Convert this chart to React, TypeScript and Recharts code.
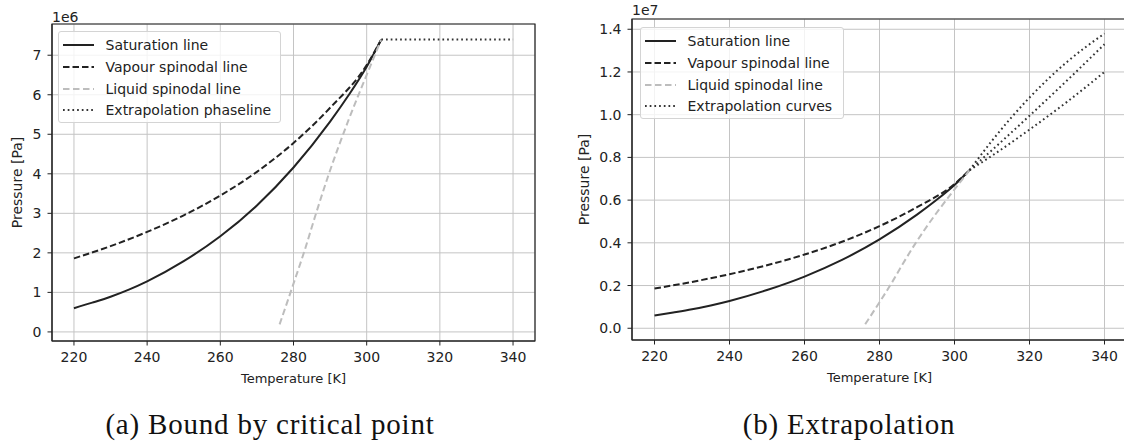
import { CartesianGrid, Label, Legend, Line, LineChart, ReferenceArea, XAxis, YAxis } from 'recharts'

const FONT = "'DejaVu Sans', sans-serif"
const INK = '#222222'
const GRID = '#c4c4c4'

const xTicks = [220, 240, 260, 280, 300, 320, 340]
const leftYTicks = [0, 1e6, 2e6, 3e6, 4e6, 5e6, 6e6, 7e6]
const rightYTicks = [0, 0.2e7, 0.4e7, 0.6e7, 0.8e7, 1.0e7, 1.2e7, 1.4e7]

// saturation line
const satT = [220, 225, 230, 235, 240, 250, 260, 270, 280, 290, 295, 300, 304]
const satP = [0.6e6, 0.74e6, 0.89e6, 1.07e6, 1.28e6, 1.79e6, 2.42e6, 3.2e6, 4.16e6, 5.32e6, 5.98e6, 6.71e6, 7.4e6]

// vapour spinodal line
const vapT = [220, 230, 240, 250, 260, 270, 280, 290, 300, 304]
const vapP = [1.86e6, 2.17e6, 2.53e6, 2.95e6, 3.45e6, 4.05e6, 4.78e6, 5.67e6, 6.75e6, 7.4e6]

// liquid spinodal line
const liqT = [276.2, 280, 283, 286, 289.5, 295, 300, 304]
const liqP = [0.19e6, 1.22e6, 2.05e6, 2.95e6, 3.95e6, 5.35e6, 6.5e6, 7.4e6]

// (a) extrapolation phaseline, flat at the critical pressure
const flatT = [304, 340]
const flatP = [7.4e6, 7.4e6]

// (b) extrapolation curves
const extT = [304, 310, 320, 330, 340]
const extTopP = [0.74e7, 0.878e7, 1.08e7, 1.247e7, 1.38e7]
const extMidP = [0.74e7, 0.834e7, 0.995e7, 1.16e7, 1.33e7]
const extLowP = [0.74e7, 0.808e7, 0.93e7, 1.06e7, 1.2e7]

const toPoints = (ts: number[], ps: number[]) => ts.map((t, i) => ({ t, p: ps[i] }))

const styles = {
  sat: { stroke: INK, strokeWidth: 2, strokeDasharray: undefined as string | undefined },
  vap: { stroke: INK, strokeWidth: 2, strokeDasharray: '6.5 3' },
  liq: { stroke: '#bdbdbd', strokeWidth: 2, strokeDasharray: '6.5 3.5' },
  ext: { stroke: '#333333', strokeWidth: 2, strokeDasharray: '1.7 3' },
}

type LegendItem = { name: string; style: { stroke: string; strokeWidth: number; strokeDasharray?: string } }

function LegendBox({ items, width }: { items: LegendItem[]; width: number }) {
  return (
    <div
      style={{
        width,
        boxSizing: 'border-box',
        border: '1px solid #d4d4d4',
        borderRadius: 3,
        background: 'rgba(255,255,255,0.8)',
        padding: '2.5px 0 1px 4px',
        fontFamily: FONT,
        fontSize: 14,
        color: INK,
      }}
    >
      {items.map((it) => (
        <div key={it.name} style={{ height: 21.7, display: 'flex', alignItems: 'center', whiteSpace: 'nowrap' }}>
          <svg width={31} height={8} style={{ marginRight: 11.5, flex: 'none' }}>
            <line
              x1={0}
              y1={4}
              x2={31}
              y2={4}
              stroke={it.style.stroke}
              strokeWidth={it.style.strokeWidth}
              strokeDasharray={it.style.strokeDasharray}
            />
          </svg>
          <span>{it.name}</span>
        </div>
      ))}
    </div>
  )
}

function xLabel(props: any) {
  const vb = props.viewBox
  return (
    <text x={vb.x + vb.width / 2} y={vb.y + 42} textAnchor="middle" fill={INK} fontFamily={FONT} fontSize={13}>
      Temperature [K]
    </text>
  )
}

const yLabel = (exponent: string, labelX: number, expDy: number) => (props: any) => {
  const vb = props.viewBox
  const cy = vb.y + vb.height / 2
  return (
    <g fill={INK} fontFamily={FONT} fontSize={14}>
      <text x={labelX} y={cy} transform={`rotate(-90 ${labelX} ${cy})`} textAnchor="middle" dominantBaseline="central">
        Pressure [Pa]
      </text>
      <text x={vb.x + vb.width} y={vb.y - expDy} textAnchor="start">
        {exponent}
      </text>
    </g>
  )
}

type PanelProps = {
  width: number
  height: number
  margin: { top: number; right: number; bottom: number; left: number }
  yAxisWidth: number
  yDomain: [number, number]
  yTicks: number[]
  yFormat: (v: number) => string
  exponent: string
  labelX: number
  expDy: number
  legendPos: { left: number; top: number; width: number }
  legendItems: LegendItem[]
  children: React.ReactNode
}

const X_DOMAIN: [number, number] = [214, 346]

function Panel(p: PanelProps) {
  const tickStyle = { fill: INK, fontSize: 14, fontFamily: FONT }
  return (
    <LineChart width={p.width} height={p.height} margin={p.margin}>
      <CartesianGrid stroke={GRID} strokeWidth={1} />
      <XAxis
        dataKey="t"
        type="number"
        domain={X_DOMAIN}
        ticks={xTicks}
        allowDataOverflow
        height={60}
        tick={tickStyle}
        tickSize={4.5}
        tickMargin={7}
        stroke={INK}
      >
        <Label content={xLabel} />
      </XAxis>
      <YAxis
        type="number"
        domain={p.yDomain}
        ticks={p.yTicks}
        allowDataOverflow
        width={p.yAxisWidth}
        tick={tickStyle}
        tickFormatter={p.yFormat}
        tickSize={4.5}
        tickMargin={6}
        stroke={INK}
      >
        <Label content={yLabel(p.exponent, p.labelX, p.expDy)} />
      </YAxis>
      {/* frame around the plot area */}
      <ReferenceArea
        x1={X_DOMAIN[0]}
        x2={X_DOMAIN[1]}
        y1={p.yDomain[0]}
        y2={p.yDomain[1]}
        fill="none"
        fillOpacity={0}
        stroke={INK}
        strokeWidth={1.2}
        ifOverflow="visible"
      />
      {p.children}
      <Legend
        layout="vertical"
        align="center"
        verticalAlign="middle"
        wrapperStyle={{ left: p.legendPos.left, top: p.legendPos.top, width: p.legendPos.width }}
        content={() => <LegendBox items={p.legendItems} width={p.legendPos.width} />}
      />
    </LineChart>
  )
}

function series(key: string, pts: { t: number; p: number }[], st: LegendItem['style']) {
  return (
    <Line
      key={key}
      data={pts}
      dataKey="p"
      type="monotone"
      stroke={st.stroke}
      strokeWidth={st.strokeWidth}
      strokeDasharray={st.strokeDasharray}
      dot={false}
      activeDot={false}
      legendType="none"
      isAnimationActive={false}
    />
  )
}

export default function App() {
  const common = [
    series('sat', toPoints(satT, satP), styles.sat),
    series('vap', toPoints(vapT, vapP), styles.vap),
    series('liq', toPoints(liqT, liqP), styles.liq),
  ]
  const captionStyle: React.CSSProperties = {
    position: 'absolute',
    top: 410,
    width: 500,
    textAlign: 'center',
    fontFamily: "'Liberation Serif', serif",
    fontSize: 29,
    lineHeight: '29px',
    letterSpacing: 0.8,
    color: '#111',
  }
  return (
    <div style={{ position: 'absolute', left: 0, top: 0, width: 1124, height: 446, overflow: 'hidden', background: '#fff' }}>
      <div style={{ position: 'absolute', left: 0, top: 0 }}>
        <Panel
          width={560}
          height={401}
          margin={{ top: 24, right: 25, bottom: 0, left: 0 }}
          yAxisWidth={52}
          yDomain={[-0.23e6, 7.79e6]}
          yTicks={leftYTicks}
          yFormat={(v) => (v / 1e6).toFixed(0)}
          exponent="1e6"
          labelX={17}
          expDy={2.3}
          legendPos={{ left: 58, top: 31, width: 223 }}
          legendItems={[
            { name: 'Saturation line', style: styles.sat },
            { name: 'Vapour spinodal line', style: styles.vap },
            { name: 'Liquid spinodal line', style: styles.liq },
            { name: 'Extrapolation phaseline', style: styles.ext },
          ]}
        >
          {common}
          {series('flat', toPoints(flatT, flatP), styles.ext)}
        </Panel>
      </div>
      <div style={{ position: 'absolute', left: 565, top: 0 }}>
        <Panel
          width={590}
          height={400}
          margin={{ top: 19, right: 28, bottom: 0, left: 0 }}
          yAxisWidth={67}
          yDomain={[-0.055e7, 1.448e7]}
          yTicks={rightYTicks}
          yFormat={(v) => (v / 1e7).toFixed(1)}
          exponent="1e7"
          labelX={19}
          expDy={4}
          legendPos={{ left: 75, top: 27, width: 204 }}
          legendItems={[
            { name: 'Saturation line', style: styles.sat },
            { name: 'Vapour spinodal line', style: styles.vap },
            { name: 'Liquid spinodal line', style: styles.liq },
            { name: 'Extrapolation curves', style: styles.ext },
          ]}
        >
          {common}
          {series('extTop', toPoints(extT, extTopP), styles.ext)}
          {series('extMid', toPoints(extT, extMidP), styles.ext)}
          {series('extLow', toPoints(extT, extLowP), styles.ext)}
        </Panel>
      </div>
      <div style={{ ...captionStyle, left: 270 - 250 }}>(a) Bound by critical point</div>
      <div style={{ ...captionStyle, left: 849 - 250 }}>(b) Extrapolation</div>
    </div>
  )
}
